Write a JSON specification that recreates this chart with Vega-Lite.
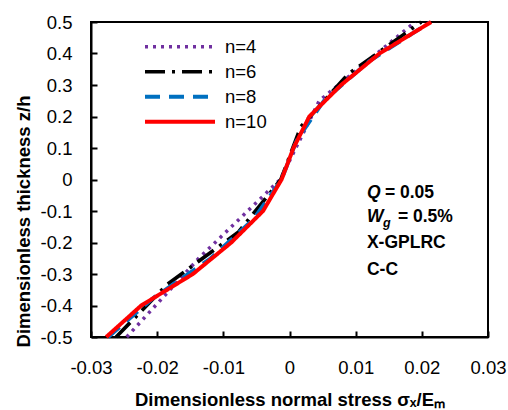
{
  "$schema": "https://vega.github.io/schema/vega-lite/v6.json",
  "width": 397,
  "height": 315,
  "autosize": "none",
  "padding": {"left": 91, "top": 22, "right": 20, "bottom": 73},
  "background": "white",
  "config": {
    "view": {"stroke": "black", "strokeWidth": 2},
    "locale": {"number": {"decimal": ".", "thousands": ",", "grouping": [3], "currency": ["$", ""], "minus": "-"}},
    "font": "Liberation Sans",
    "axis": {
      "grid": false,
      "domainColor": "black", "domainWidth": 2,
      "tickColor": "black", "tickWidth": 2, "tickSize": -6,
      "labelFontSize": 18.5, "labelColor": "black",
      "labelFlush": false, "labelOverlap": false,
      "titleFontSize": 18.5, "titleFontWeight": "bold", "titleColor": "black"
    },
    "legend": {"symbolType": "stroke", "symbolSize": 4900, "symbolStrokeWidth": 4, "clipHeight": 22.5, "rowPadding": 2, "labelOffset": 8, "labelFontSize": 18.5, "labelColor": "black", "padding": 0, "labelFont": "Liberation Sans"}
  },
  "layer": [
    {
      "data": {"values": [
        {"n": "n=4", "s": -0.0246, "z": -0.5},
        {"n": "n=4", "s": -0.0137, "z": -0.25},
        {"n": "n=4", "s": -0.0014, "z": 0},
        {"n": "n=4", "s": 0.0045, "z": 0.25},
        {"n": "n=4", "s": 0.0190, "z": 0.5},
        {"n": "n=6", "s": -0.0262, "z": -0.5},
        {"n": "n=6", "s": -0.0185, "z": -0.3333},
        {"n": "n=6", "s": -0.0077, "z": -0.1667},
        {"n": "n=6", "s": -0.0013, "z": 0},
        {"n": "n=6", "s": 0.0017, "z": 0.1667},
        {"n": "n=6", "s": 0.0088, "z": 0.3333},
        {"n": "n=6", "s": 0.0199, "z": 0.5},
        {"n": "n=8", "s": -0.0274, "z": -0.5},
        {"n": "n=8", "s": -0.0205, "z": -0.375},
        {"n": "n=8", "s": -0.0119, "z": -0.25},
        {"n": "n=8", "s": -0.0054, "z": -0.125},
        {"n": "n=8", "s": -0.0012, "z": 0},
        {"n": "n=8", "s": 0.0011, "z": 0.125},
        {"n": "n=8", "s": 0.0052, "z": 0.25},
        {"n": "n=8", "s": 0.0120, "z": 0.375},
        {"n": "n=8", "s": 0.0213, "z": 0.5},
        {"n": "n=10", "s": -0.0277, "z": -0.5},
        {"n": "n=10", "s": -0.0224, "z": -0.4},
        {"n": "n=10", "s": -0.0146, "z": -0.3},
        {"n": "n=10", "s": -0.0088, "z": -0.2},
        {"n": "n=10", "s": -0.0040, "z": -0.1},
        {"n": "n=10", "s": -0.0012, "z": 0},
        {"n": "n=10", "s": 0.0006, "z": 0.1},
        {"n": "n=10", "s": 0.0030, "z": 0.2},
        {"n": "n=10", "s": 0.0078, "z": 0.3},
        {"n": "n=10", "s": 0.0136, "z": 0.4},
        {"n": "n=10", "s": 0.0214, "z": 0.5}
      ]},
      "mark": {"type": "line", "strokeCap": "butt", "strokeJoin": "round"},
      "encoding": {
        "x": {
          "field": "s", "type": "quantitative",
          "scale": {"domain": [-0.03, 0.03], "nice": false, "zero": false},
          "axis": {
            "values": [-0.03, -0.02, -0.01, 0, 0.01, 0.02, 0.03],
            "tickCount": 7,
            "format": ".2~f",
            "labelOverlap": false, "labelFlush": false, "labelPadding": 27,
            "title": "Dimensionless normal stress σₓ/Eₘ",
            "titleY": 68, "titleBaseline": "alphabetic"
          }
        },
        "y": {
          "field": "z", "type": "quantitative",
          "scale": {"domain": [-0.5, 0.5], "nice": false, "zero": false},
          "axis": {
            "values": [-0.5, -0.4, -0.3, -0.2, -0.1, 0, 0.1, 0.2, 0.3, 0.4, 0.5],
            "tickCount": 11,
            "format": ".1~f",
            "labelOverlap": false, "labelFlush": false, "labelPadding": 25,
            "title": "Dimensionless thickness z/h",
            "titleX": -68, "titleY": 199, "titleBaseline": "middle", "titleAlign": "center", "titleAngle": -90
          }
        },
        "color": {
          "field": "n", "type": "nominal",
          "scale": {"domain": ["n=4", "n=6", "n=8", "n=10"], "range": ["#7030A0", "#000000", "#0070C0", "#FF0000"]},
          "legend": {"title": null, "orient": "none", "legendX": 52, "legendY": 13.5}
        },
        "strokeDash": {
          "field": "n", "type": "nominal",
          "scale": {"domain": ["n=4", "n=6", "n=8", "n=10"], "range": [[3, 5], [20, 7, 3, 7], [15, 9], [1, 0]]},
          "legend": {"title": null, "orient": "none", "legendX": 52, "legendY": 13.5}
        },
        "strokeWidth": {
          "field": "n", "type": "nominal",
          "scale": {"domain": ["n=4", "n=6", "n=8", "n=10"], "range": [3.5, 4, 4, 4.5]},
          "legend": null
        },
        "order": {"field": "z", "type": "quantitative"}
      }
    },
    {
      "data": {"values": [{"t": "Q"}]},
      "mark": {"type": "text", "align": "left", "baseline": "alphabetic", "fontSize": 17.5, "fontWeight": "bold", "fontStyle": "italic", "color": "black"},
      "encoding": {"text": {"field": "t"}, "x": {"datum": 0.0117}, "y": {"datum": -0.0587}}
    },
    {
      "data": {"values": [{"t": "= 0.05"}]},
      "mark": {"type": "text", "align": "left", "baseline": "alphabetic", "fontSize": 17.5, "fontWeight": "bold", "color": "black", "dx": 18},
      "encoding": {"text": {"field": "t"}, "x": {"datum": 0.0117}, "y": {"datum": -0.0587}}
    },
    {
      "data": {"values": [{"t": "W"}]},
      "mark": {"type": "text", "align": "left", "baseline": "alphabetic", "fontSize": 17.5, "fontWeight": "bold", "fontStyle": "italic", "color": "black"},
      "encoding": {"text": {"field": "t"}, "x": {"datum": 0.0117}, "y": {"datum": -0.134}}
    },
    {
      "data": {"values": [{"t": "g"}]},
      "mark": {"type": "text", "align": "left", "baseline": "alphabetic", "fontSize": 12.5, "fontWeight": "bold", "fontStyle": "italic", "color": "black", "dx": 16, "dy": 5.5},
      "encoding": {"text": {"field": "t"}, "x": {"datum": 0.0117}, "y": {"datum": -0.134}}
    },
    {
      "data": {"values": [{"t": "= 0.5%"}]},
      "mark": {"type": "text", "align": "left", "baseline": "alphabetic", "fontSize": 17.5, "fontWeight": "bold", "color": "black", "dx": 31},
      "encoding": {"text": {"field": "t"}, "x": {"datum": 0.0117}, "y": {"datum": -0.134}}
    },
    {
      "data": {"values": [{"t": "X-GPLRC"}]},
      "mark": {"type": "text", "align": "left", "baseline": "alphabetic", "fontSize": 17.5, "fontWeight": "bold", "color": "black"},
      "encoding": {"text": {"field": "t"}, "x": {"datum": 0.0117}, "y": {"datum": -0.2175}}
    },
    {
      "data": {"values": [{"t": "C-C"}]},
      "mark": {"type": "text", "align": "left", "baseline": "alphabetic", "fontSize": 17.5, "fontWeight": "bold", "color": "black"},
      "encoding": {"text": {"field": "t"}, "x": {"datum": 0.0117}, "y": {"datum": -0.303}}
    }
  ]
}
